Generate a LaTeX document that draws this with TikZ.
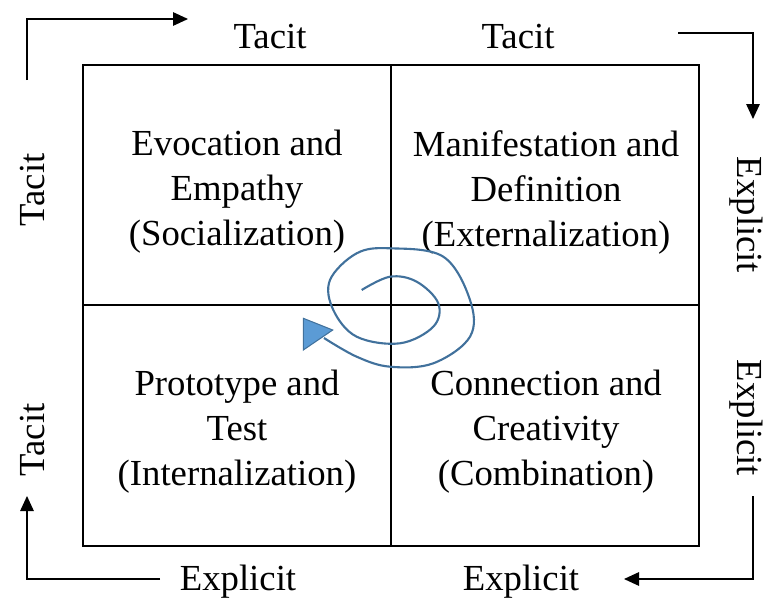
\documentclass[tikz,border=0pt]{standalone}
\usepackage{fontspec}
\setmainfont{Liberation Serif}
\usetikzlibrary{arrows.meta}

\definecolor{spiralblue}{RGB}{65,113,156}
\definecolor{tipblue}{RGB}{91,155,213}

\begin{document}
\begin{tikzpicture}[x=0.02cm, y=-0.02cm,
  lbl/.style={font=\fontsize{20.9}{25.6}\selectfont},
  quad/.style={lbl, align=center},
  flow/.style={line width=0.8pt, -{Triangle[length=0.3cm,width=0.27cm]}}]
\useasboundingbox (0,0) rectangle (764,602);
% Coordinates
\coordinate (nw) at (83,65);
\coordinate (se) at (699,546);
\coordinate (m) at (391,305);
% Draw grid
\draw[line width=1.6pt] (nw) rectangle (se);
\draw[line width=1.2pt] (nw -| m) -- (se -| m);
\draw[line width=1.2pt] (nw |- m) -- (se |- m);
% Quadrants
\node[quad] (soc) at (237,192) {Evocation and\\Empathy\\(Socialization)};
\node[quad] (ext) at (546,192) {Manifestation and\\Definition\\(Externalization)};
\node[quad] (int) at (237,432) {Prototype and\\Test\\(Internalization)};
\node[quad] (com) at (546,432) {Connection and\\Creativity\\(Combination)};
% Outer labels
\node[lbl] (t1) at (270,37) {Tacit};
\node[lbl] (t2) at (518,37) {Tacit};
\node[lbl, rotate=90] (t3) at (33,190) {Tacit};
\node[lbl, rotate=90] (t4) at (33,440) {Tacit};
\node[lbl, rotate=-90] (e1) at (746,215) {Explicit};
\node[lbl, rotate=-90] (e2) at (746,418) {Explicit};
\node[lbl] (e3) at (238,582) {Explicit};
\node[lbl] (e4) at (521,582) {Explicit};
% Corner arrows
\coordinate (a1) at (27,80);   \coordinate (a2) at (188,19);
\coordinate (b1) at (678,33);  \coordinate (b2) at (753,119);
\coordinate (c1) at (753,496); \coordinate (c2) at (624,579);
\coordinate (d1) at (160,579); \coordinate (d2) at (27,496);
\draw[flow] (a1) |- (a2);
\draw[flow] (b1) -| (b2);
\draw[flow] (c1) |- (c2);
\draw[flow] (d1) -| (d2);
% Spiral
\draw[spiralblue, line width=1.2pt] plot[smooth, tension=0.6] coordinates {
  (361.7,290) (390,276.7) (416.7,281.7) (438.3,303.3) (433.3,326.7)
  (400,343.3) (356.7,336.7) (333.3,310) (330,280) (356.7,253.3)
  (390,248.3) (443.3,256.7) (470,300) (470,336.7) (433.3,363.3)
  (390,366.7) (356.7,356.7) (324,338)};
\filldraw[fill=tipblue, draw=spiralblue, line width=0.6pt]
  (303.3,318.3) -- (332.7,330) -- (303.3,350) -- cycle;
\end{tikzpicture}
\end{document}
